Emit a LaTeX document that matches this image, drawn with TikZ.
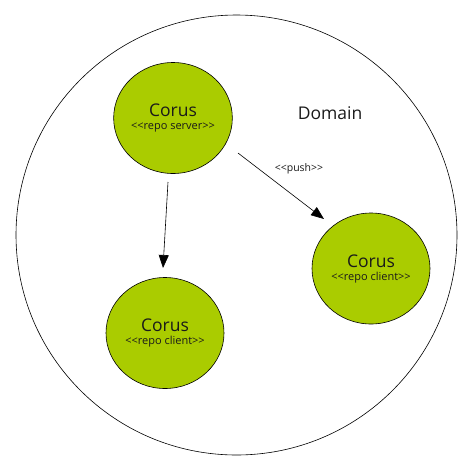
\documentclass[tikz,border=0pt]{standalone}
\usepackage{fontspec}
\setmainfont{Open Sans}
\usetikzlibrary{arrows.meta,shapes.geometric}
\definecolor{corusgreen}{HTML}{AACC00}
\definecolor{txtdark}{HTML}{1A1A1A}
\newcommand\dlt{<\kern0pt<}
\newcommand\dgt{>\kern0pt>}
\tikzset{
  corus/.style={ellipse, draw=black, line width=0.6pt, fill=corusgreen,
    minimum width=118pt, minimum height=111pt, inner sep=0pt, align=center,
    text=txtdark, font=\fontsize{17.5}{20}\selectfont},
  stereo/.style={font=\fontsize{10.5}{12}\selectfont},
  link/.style={draw=black, line width=0.6pt, -{Triangle[length=13pt,width=10pt]}},
}
\begin{document}
\begin{tikzpicture}[x=1pt,y=-1pt]
\useasboundingbox (0,0) rectangle (471,464);
\node[ellipse, draw=black, line width=0.6pt, minimum width=441pt, minimum height=440pt, inner sep=0pt] (domain) at (236.5,235) {};
\node[font=\fontsize{17.5}{20}\selectfont, text=txtdark] (domlabel) at (330,113) {Domain};
\node[corus] (server) at (173,118) {\raisebox{-4pt}{Corus}\\[-3pt]{\fontsize{11}{12}\selectfont \dlt repo server\dgt}};
\node[corus] (clientL) at (165,333) {\raisebox{-4pt}{Corus}\\[-3pt]{\fontsize{11}{12}\selectfont \dlt repo client\dgt}};
\node[corus] (clientR) at (371,268.5) {\raisebox{-4pt}{Corus}\\[-3pt]{\fontsize{11}{12}\selectfont \dlt repo client\dgt}};
\coordinate (a1s) at (168,182);
\coordinate (a1e) at (163,268);
\coordinate (a2s) at (238,153);
\coordinate (a2e) at (324,219);
\draw[link] (a1s) -- (a1e);
\draw[link] (a2s) -- (a2e);
\node[stereo, text=txtdark] (pushlabel) at (299,169) {\dlt push\dgt};
\end{tikzpicture}
\end{document}
